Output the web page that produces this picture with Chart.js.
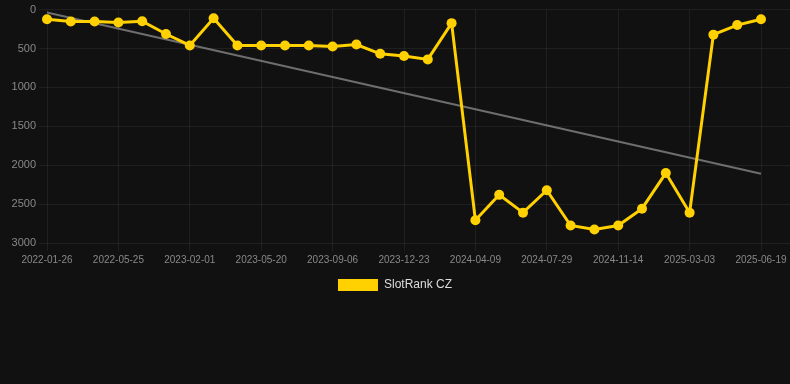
<!DOCTYPE html>
<html>
<head>
<meta charset="utf-8">
<script src="https://cdn.jsdelivr.net/npm/chart.js@4/dist/chart.umd.min.js"></script>
<style>
  html, body { margin: 0; padding: 0; background: #111111; }
  #wrap { width: 790px; height: 301px; position: relative; }
</style>
</head>
<body>
<div id="wrap"><canvas id="rankChart"></canvas></div>
<script>
// categories (dates), one per measurement
const dates = [
  "2022-01-26", "2022-03-06", "2022-04-15", "2022-05-25", "2022-08-17", "2022-11-09",
  "2023-02-01", "2023-03-11", "2023-04-15", "2023-05-20", "2023-06-26", "2023-08-01",
  "2023-09-06", "2023-10-12", "2023-11-17", "2023-12-23", "2024-01-28", "2024-03-04",
  "2024-04-09", "2024-05-16", "2024-06-22", "2024-07-29", "2024-09-03", "2024-10-09",
  "2024-11-14", "2024-12-20", "2025-01-25", "2025-03-03", "2025-04-07", "2025-05-13",
  "2025-06-19"
];

// rank values
const rankCZ = [
  123, 152, 152, 165, 149, 314, 461, 111, 461, 461, 461, 461,
  474, 449, 568, 597, 640, 174, 2707, 2381, 2610, 2322, 2775, 2826,
  2775, 2559, 2101, 2610, 322, 199, 123
];

// trend line ends (first and last date)
const trendEnds = [38, 2110];

// y axis ticks
const yMin = 0;
const yMax = 3000;
const yStep = 500;

const trendData = dates.map((d, i) => {
  if (i === 0) return trendEnds[0];
  if (i === dates.length - 1) return trendEnds[1];
  return null;
});

const gridColor = 'rgba(255,255,255,0.06)';
const fontFamily = 'Liberation Sans, Arial, sans-serif';

var ctx = document.getElementById('rankChart').getContext('2d');
var myChart = new Chart(ctx, {
  type: 'line',
  data: {
    labels: dates,
    datasets: [
      {
        label: 'SlotRank CZ',
        data: rankCZ,
        borderColor: '#ffd100',
        backgroundColor: '#ffd100',
        borderWidth: 3,
        pointRadius: 5,
        pointBackgroundColor: '#ffd100',
        pointBorderWidth: 0,
        tension: 0,
        order: 1
      },
      {
        label: 'trend',
        data: trendData,
        borderColor: 'rgba(150,150,150,0.7)',
        borderWidth: 2,
        pointRadius: 0,
        spanGaps: true,
        order: 2
      }
    ]
  },
  options: {
    responsive: true,
    maintainAspectRatio: false,
    animation: false,
    plugins: {
      legend: {
        position: 'bottom',
        labels: {
          color: '#dddddd',
          boxWidth: 40,
          boxHeight: 12,
          font: { family: fontFamily, size: 12 },
          generateLabels: (chart) => {
            const items = Chart.defaults.plugins.legend.labels.generateLabels(chart);
            items.forEach((it) => { it.lineWidth = 0; });
            return items.filter((it) => it.text !== 'trend');
          }
        }
      },
      tooltip: { enabled: false }
    },
    scales: {
      x: {
        ticks: {
          autoSkip: false,
          maxRotation: 0,
          color: '#888888',
          font: { family: fontFamily, size: 10 },
          callback: function (value, index) {
            return index % 3 === 0 ? this.getLabelForValue(value) : '';
          }
        },
        grid: {
          color: (c) => (c.index % 3 === 0 ? gridColor : 'rgba(0,0,0,0)')
        },
        border: { display: false }
      },
      y: {
        reverse: true,
        min: yMin,
        max: yMax,
        afterFit: (scale) => { scale.width = 47; },
        ticks: {
          stepSize: yStep,
          color: '#888888',
          font: { family: fontFamily, size: 11 },
          callback: (v) => String(v)
        },
        grid: { color: gridColor },
        border: { display: false }
      },
      y2: {
        position: 'right',
        reverse: true,
        min: yMin,
        max: yMax,
        ticks: { stepSize: yStep, display: false },
        grid: { color: gridColor, drawOnChartArea: false, tickLength: 29 },
        border: { display: false }
      }
    }
  }
});
</script>
</body>
</html>
